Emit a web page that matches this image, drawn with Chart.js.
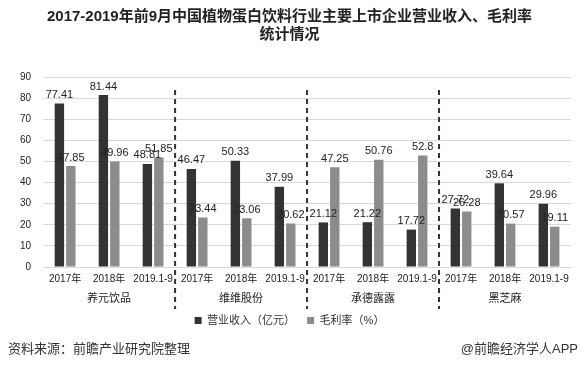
<!DOCTYPE html>
<html>
<head>
<meta charset="utf-8">
<script src="https://cdn.jsdelivr.net/npm/chart.js@4.4.0/dist/chart.umd.min.js"></script>
<style>
  html, body { margin: 0; padding: 0; background: #fff; }
  #wrap { position: relative; width: 581px; height: 378px; }
</style>
</head>
<body>
<div id="wrap"><canvas id="chart" width="581" height="378"></canvas></div>
<script>
// ---- data ----
const years = ["2017年", "2018年", "2019.1-9"];
const companies = ["养元饮品", "维维股份", "承德露露", "黑芝麻"];
const revenue = [77.41, 81.44, 48.81, 46.47, 50.33, 37.99, 21.12, 21.22, 17.72, 27.72, 39.64, 29.96];
const margin = [47.85, 49.96, 51.85, 23.44, 23.06, 20.62, 47.25, 50.76, 52.8, 26.28, 20.57, 19.11];
const yTicks = [0, 10, 20, 30, 40, 50, 60, 70, 80, 90];

const FONT = '"Liberation Sans", "Noto Sans CJK SC", sans-serif';

// one x label per (company, year); second line is left empty for the company row
const labels = [];
companies.forEach(() => years.forEach(y => labels.push([y, ""])));

// value labels above each bar
const valueLabels = {
  id: "valueLabels",
  afterDatasetsDraw(chart) {
    const ctx = chart.ctx;
    ctx.save();
    ctx.font = "11px " + FONT;
    ctx.fillStyle = "#222";
    ctx.textAlign = "center";
    ctx.textBaseline = "bottom";
    chart.data.datasets.forEach((ds, i) => {
      chart.getDatasetMeta(i).data.forEach((bar, j) => {
        ctx.fillText(String(ds.data[j]), bar.x, bar.y - 3);
      });
    });
    ctx.restore();
  }
};

// company names + dashed separators
const groups = {
  id: "groups",
  afterDraw(chart) {
    const ctx = chart.ctx;
    const x = chart.scales.x;
    const area = chart.chartArea;
    const n = years.length;
    ctx.save();
    ctx.font = "11px " + FONT;
    ctx.fillStyle = "#222";
    ctx.textAlign = "center";
    ctx.textBaseline = "middle";
    companies.forEach((c, g) => {
      const cx = (x.getPixelForValue(g * n) + x.getPixelForValue(g * n + n - 1)) / 2;
      ctx.fillText(c, cx, area.bottom + 32);
    });
    ctx.strokeStyle = "#333";
    ctx.lineWidth = 2;
    ctx.setLineDash([5, 4]);
    for (let g = 1; g < companies.length; g++) {
      const sx = (x.getPixelForValue(g * n - 1) + x.getPixelForValue(g * n)) / 2;
      ctx.beginPath();
      ctx.moveTo(sx, area.top + 13);
      ctx.lineTo(sx, area.bottom + 42);
      ctx.stroke();
    }
    ctx.restore();
  }
};

// footer line
const footer = {
  id: "footer",
  afterDraw(chart) {
    const ctx = chart.ctx;
    ctx.save();
    ctx.font = "13px " + FONT;
    ctx.fillStyle = "#333";
    ctx.textBaseline = "middle";
    ctx.textAlign = "left";
    ctx.fillText("资料来源：前瞻产业研究院整理", 8, 349);
    ctx.textAlign = "right";
    ctx.fillText("@前瞻经济学人APP", 578, 349);
    ctx.restore();
  }
};

new Chart(document.getElementById("chart"), {
  type: "bar",
  data: {
    labels: labels,
    datasets: [
      {
        label: "营业收入（亿元）",
        data: revenue,
        backgroundColor: "#333333",
        categoryPercentage: 0.52,
        barPercentage: 0.82
      },
      {
        label: "毛利率（%）",
        data: margin,
        backgroundColor: "#8c8c8c",
        categoryPercentage: 0.52,
        barPercentage: 0.82
      }
    ]
  },
  options: {
    responsive: false,
    animation: false,
    layout: { padding: { left: 8, right: 10, top: 0, bottom: 42 } },
    plugins: {
      title: {
        display: true,
        text: ["2017-2019年前9月中国植物蛋白饮料行业主要上市企业营业收入、毛利率", "统计情况"],
        color: "#222",
        font: { family: FONT, size: 15, weight: "bold", lineHeight: 1.2 },
        padding: { top: 8, bottom: 33 }
      },
      legend: {
        position: "bottom",
        labels: {
          color: "#333",
          boxWidth: 7,
          boxHeight: 7,
          font: { family: FONT, size: 11 },
          padding: 12
        }
      },
      tooltip: { enabled: false }
    },
    scales: {
      x: {
        grid: { display: false, drawTicks: false },
        border: { display: false },
        ticks: {
          color: "#222",
          font: { family: FONT, size: 10 },
          maxRotation: 0,
          autoSkip: false,
          padding: 6
        }
      },
      y: {
        min: 0,
        max: 90,
        afterBuildTicks: axis => { axis.ticks = yTicks.map(v => ({ value: v })); },
        grid: { color: "#d9d9d9", drawTicks: false },
        border: { display: false },
        ticks: {
          color: "#222",
          font: { family: FONT, size: 10 },
          padding: 12
        }
      }
    }
  },
  plugins: [valueLabels, groups, footer]
});
</script>
</body>
</html>
